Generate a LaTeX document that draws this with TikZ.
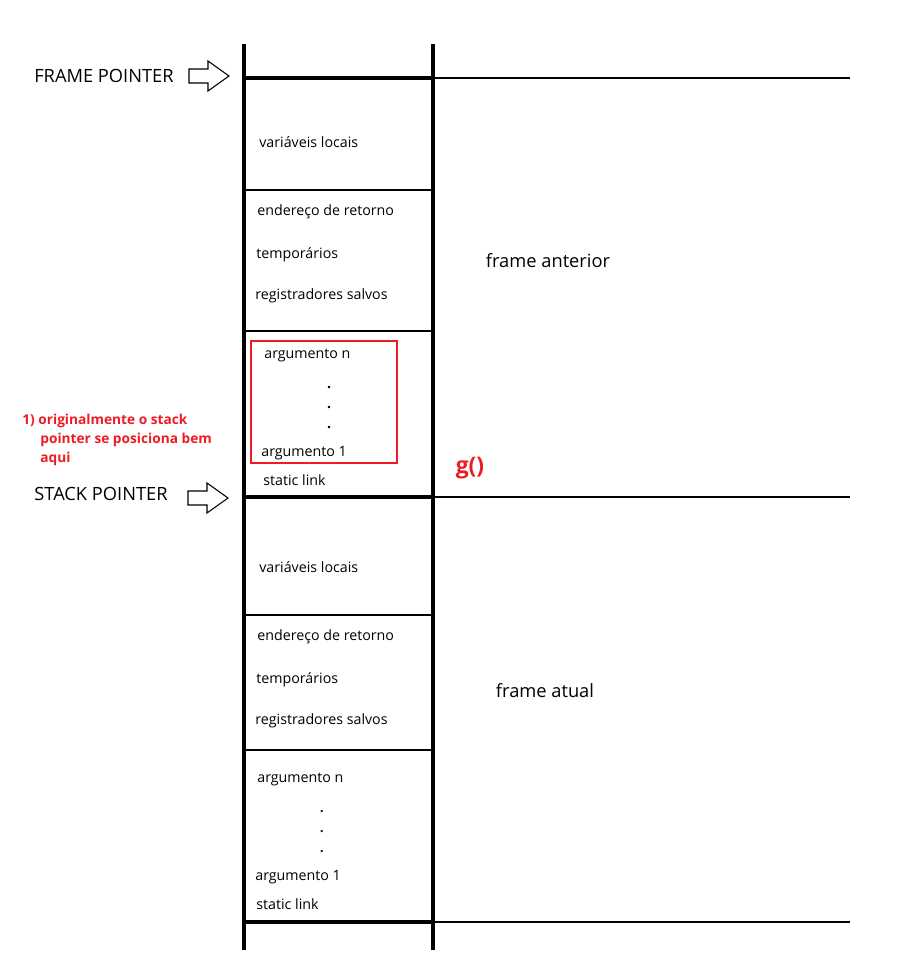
\documentclass[tikz,border=0pt]{standalone}
\usepackage{fontspec}
\setmainfont{Open Sans}
\definecolor{notered}{RGB}{237,28,36}
\definecolor{dotblue}{RGB}{20,40,110}
\tikzset{
  wall/.style={line width=2.8pt},
  sep/.style={line width=0.6pt},
  txt/.style={anchor=west, inner sep=0pt, font=\fontsize{8.1}{9}\selectfont},
  bigtxt/.style={inner sep=0pt, font=\fontsize{10.4}{12}\selectfont},
  nota/.style={anchor=west, inner sep=0pt, text=notered, font=\bfseries\fontsize{7.8}{9}\selectfont},
  dot/.style={inner sep=0pt, font=\bfseries\fontsize{8}{9}\selectfont}
}
\newcommand{\ptrarrow}[2]{%
  \draw[line width=0.6pt] (#1,#2-7) -- (#1+19,#2-7) -- (#1+19,#2-15) -- (#1+40,#2)
    -- (#1+19,#2+15) -- (#1+19,#2+7) -- (#1,#2+7) -- cycle;}
\begin{document}
\begin{tikzpicture}[x=0.02cm, y=-0.02cm]
\useasboundingbox (0,0) rectangle (914,980);

% walls of the stack
\draw[wall] (244,44) -- (244,950);
\draw[wall] (433,44) -- (433,950);
\foreach \y in {78,497,922} {
  \draw[wall] (244,\y) -- (433,\y);
  \draw[sep] (433,\y) -- (850,\y);
}
\foreach \y in {190,331,615,750}
  \draw[sep] (244,\y) -- (433,\y);

% pointers
\node[bigtxt] (fp) at (104,76) {FRAME POINTER};
\ptrarrow{189}{76}
\node[bigtxt] (sp) at (101,494) {STACK POINTER};
\ptrarrow{188}{498}

% frame anterior
\node[txt] (vl1) at (259,142) {variáveis locais};
\node[txt] (er1) at (257,212) {endereço de retorno};
\node[txt] (tp1) at (256,255) {temporários};
\node[txt] (rs1) at (255,296) {registradores salvos};
\node[txt] (an1) at (264,356) {argumento n};
\foreach \y in {388,408,428}
  \node[dot] at (329,\y) {.};
\node[txt] (a11) at (261,453) {argumento 1};
\node[txt] (sl1) at (263,480) {static link};
\draw[notered, line width=0.6pt] (251,341) rectangle (397,463);
\node[bigtxt] (fa) at (548,261) {frame anterior};
\node[inner sep=0pt, text=notered, font=\bfseries\fontsize{13}{15}\selectfont] (g) at (470,468) {g()};

% nota
\node[nota] (n1) at (22,421) {1) originalmente o stack};
\node[nota] (n2) at (40,440) {pointer se posiciona bem};
\node[nota] (n3) at (40,459) {aqui};

% frame atual
\node[txt] (vl2) at (259,567) {variáveis locais};
\node[txt] (er2) at (257,637) {endereço de retorno};
\node[txt] (tp2) at (256,680) {temporários};
\node[txt] (rs2) at (255,721) {registradores salvos};
\node[txt] (an2) at (257,780) {argumento n};
\foreach \y in {812,832,852}
  \node[dot, text=dotblue] at (322,\y) {.};
\node[txt] (a12) at (255,877) {argumento 1};
\node[txt] (sl2) at (256,904) {static link};
\node[bigtxt] (fat) at (545,691) {frame atual};

\end{tikzpicture}
\end{document}
